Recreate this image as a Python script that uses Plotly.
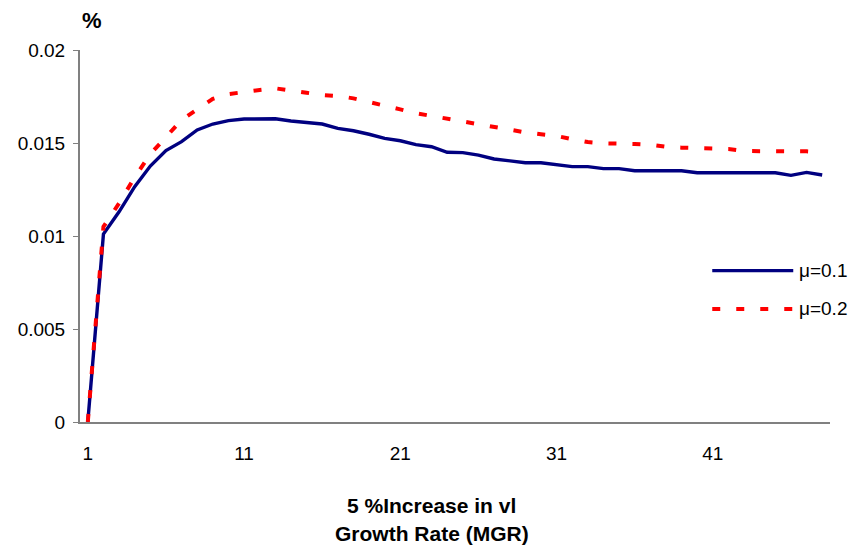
import plotly.graph_objects as go

# ---- data
steps = list(range(1, 49))

mu_01 = [
	0.0, 0.0101, 0.0113, 0.01265, 0.01376, 0.01459, 0.01507, 0.0157, 0.01602, 0.0162,
	0.01629, 0.01629, 0.0163, 0.01618, 0.01611, 0.01602, 0.01579, 0.01566, 0.01547, 0.01525,
	0.01512, 0.01491, 0.0148, 0.0145, 0.01448, 0.01435, 0.01414, 0.01405, 0.01394, 0.01394,
	0.01383, 0.01373, 0.01373, 0.01362, 0.01362, 0.01351, 0.01351, 0.01351, 0.01351, 0.0134,
	0.0134, 0.0134, 0.0134, 0.0134, 0.0134, 0.01326, 0.01342, 0.01328,
]
mu_02 = [
	0.0, 0.0105, 0.01176, 0.01316, 0.0144, 0.01534, 0.01624, 0.01681, 0.01737, 0.01763,
	0.01776, 0.01785, 0.01794, 0.0178, 0.0177, 0.01758, 0.01753, 0.0174, 0.01722, 0.01704,
	0.01681, 0.0166, 0.01645, 0.01633, 0.01616, 0.016, 0.01588, 0.01573, 0.01557, 0.01547,
	0.01538, 0.0152, 0.01505, 0.01498, 0.01498, 0.01495, 0.01491, 0.0148, 0.01475, 0.01471,
	0.01471, 0.01468, 0.01457, 0.01455, 0.01455, 0.01455, 0.01455, 0.0145,
]
series_names = ["μ=0.1", "μ=0.2"]
x_ticks = [1, 11, 21, 31, 41]
y_ticks = [0, 0.005, 0.01, 0.015, 0.02]
x_title_lines = ["5 %Increase in vl", "Growth Rate (MGR)"]

FONT = "Arial, Liberation Sans, sans-serif"
BLUE = "#000080"
RED = "#FF0000"
RED_DASH = "8px,16px"

# ---- create figure
fig = go.Figure()
fig.add_trace(go.Scatter(x=steps, y=mu_01, mode="lines", name=series_names[0],
	line=dict(color=BLUE, width=3.4), showlegend=False))
fig.add_trace(go.Scatter(x=steps, y=mu_02, mode="lines", name=series_names[1],
	line=dict(color=RED, width=4, dash=RED_DASH), showlegend=False))

# ---- legend drawn by hand (long sample lines, like the original)
legend_y = [0.407, 0.304]
legend_style = [dict(color=BLUE, width=3.4), dict(color=RED, width=4, dash=RED_DASH)]
for name, ly, st in zip(series_names, legend_y, legend_style):
	fig.add_shape(type="line", xref="paper", yref="paper",
		x0=0.843, x1=0.951, y0=ly, y1=ly, line=st)
	fig.add_annotation(text=name, xref="paper", yref="paper", x=0.956, y=ly,
		xanchor="left", yanchor="middle", showarrow=False,
		font=dict(family=FONT, size=19, color="black"))

# ---- axis titles
for txt, ty in zip(x_title_lines, [-0.224, -0.301]):
	fig.add_annotation(text="<b>" + txt + "</b>",
		xref="paper", yref="paper", x=0.469, y=ty, xanchor="center", yanchor="middle",
		showarrow=False, font=dict(family=FONT, size=21, color="black"))
fig.add_annotation(text="<b>%</b>", xref="paper", yref="paper", x=0.016, y=1.078,
	xanchor="center", yanchor="middle", showarrow=False,
	font=dict(family=FONT, size=22, color="black"))

# ---- update plot layout
# (the page body has an 8px margin, so the figure is shrunk by that much)
fig.update_layout(
	width=850,
	height=545,
	paper_bgcolor="white",
	plot_bgcolor="white",
	font=dict(family=FONT, size=19, color="black"),
	margin=dict(l=72, r=28, t=42, b=131, pad=0),
	xaxis=dict(
		range=[0.5, 48.5],
		tickvals=x_ticks,
		showgrid=False,
		zeroline=False,
		showline=True,
		linecolor="#808080",
		linewidth=2,
		ticks="",
		ticklabelstandoff=13,
		automargin=False,
	),
	yaxis=dict(
		range=[0, 0.02],
		tickvals=y_ticks,
		ticktext=[str(v) if v else "0" for v in y_ticks],
		showgrid=False,
		zeroline=False,
		showline=True,
		linecolor="#808080",
		linewidth=2,
		ticks="outside",
		ticklen=5,
		tickcolor="#808080",
		ticklabelstandoff=4,
		automargin=False,
	),
	showlegend=False,
)

fig.write_html("out.html")
